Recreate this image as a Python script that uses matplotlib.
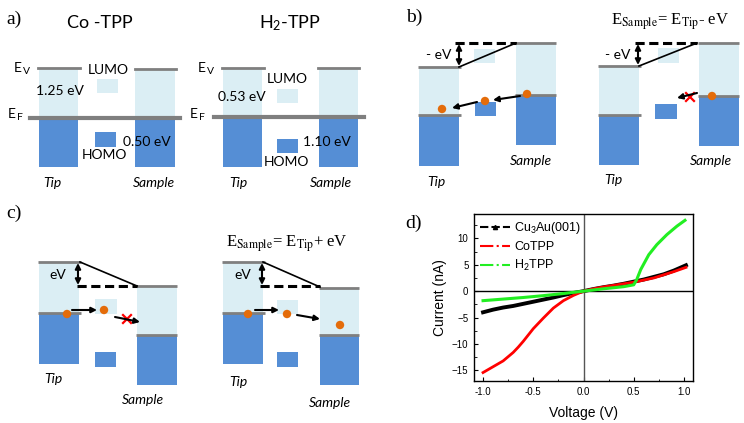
import numpy as np
import matplotlib
matplotlib.use("Agg")
from matplotlib import pyplot as plt
from matplotlib.patches import Rectangle, Circle
from matplotlib.lines import Line2D
from matplotlib.ticker import MultipleLocator

plt.rcParams['font.family'] = ['Lato', 'DejaVu Sans']
plt.rcParams['mathtext.fontset'] = 'custom'
plt.rcParams['mathtext.rm'] = 'Lato'
plt.rcParams['mathtext.it'] = 'Lato:italic'

# I-V data, panel d
v_cu = [-1.0, -0.9, -0.8, -0.7, -0.6, -0.5, -0.4, -0.3, -0.2, -0.1, 0.0,
        0.1, 0.2, 0.3, 0.4, 0.5, 0.6, 0.7, 0.8, 0.9, 1.02]
i_cu = [-4.0, -3.5, -3.1, -2.8, -2.4, -2.0, -1.6, -1.2, -0.75, -0.35, 0.0,
        0.4, 0.75, 1.05, 1.4, 1.8, 2.2, 2.7, 3.2, 3.9, 4.9]
v_co = [-1.0, -0.9, -0.8, -0.75, -0.7, -0.65, -0.6, -0.55, -0.5, -0.45, -0.4,
        -0.3, -0.2, -0.1, 0.0, 0.1, 0.2, 0.3, 0.4, 0.5, 0.6, 0.7, 0.8, 0.9, 1.02]
i_co = [-15.4, -14.3, -13.2, -12.4, -11.6, -10.6, -9.5, -8.3, -7.1, -6.1, -5.1,
        -3.2, -1.8, -0.8, 0.0, 0.45, 0.8, 1.1, 1.4, 1.7, 2.1, 2.5, 3.1, 3.7, 4.5]
v_h2 = [-1.0, -0.8, -0.6, -0.4, -0.2, 0.0, 0.2, 0.4, 0.5, 0.53, 0.57,
        0.65, 0.73, 0.83, 0.93, 1.01]
i_h2 = [-1.8, -1.5, -1.2, -0.85, -0.45, 0.0, 0.45, 0.85, 1.2, 2.2, 4.1,
        6.9, 8.8, 10.7, 12.3, 13.4]
x_ticks = [-1.0, -0.5, 0.0, 0.5, 1.0]
y_ticks = [-15, -10, -5, 0, 5, 10]

LIGHT = '#dbeef4'
DARK = '#558ed5'
GRAY = '#7f7f7f'
ORANGE = '#e46c0a'

fig = plt.figure(figsize=(7.44, 4.23), dpi=100)
ov = fig.add_axes([0, 0, 1, 1])
ov.set_xlim(0, 744)
ov.set_ylim(423, 0)
ov.axis('off')


def electrode(x0, x1, top, ef, bot, ext=2):
    ov.add_patch(Rectangle((x0, top), x1 - x0, ef - top, color=LIGHT, lw=0))
    ov.add_patch(Rectangle((x0, ef), x1 - x0, bot - ef, color=DARK, lw=0))
    ov.plot([x0 - 1, x1 + ext], [top, top], color=GRAY, lw=2, solid_capstyle='butt')
    ov.plot([x0 - 1, x1 + ext], [ef, ef], color=GRAY, lw=2, solid_capstyle='butt')


def orbital(x0, x1, y0, y1, color):
    ov.add_patch(Rectangle((x0, y0), x1 - x0, y1 - y0, color=color, lw=0))


def dot(x, y):
    ov.add_patch(Circle((x, y), 4.2, color=ORANGE, lw=0, zorder=5))


def arrow(x0, y0, x1, y1, style='-|>'):
    ov.annotate('', xy=(x1, y1), xytext=(x0, y0),
                arrowprops=dict(arrowstyle=style, color='k', lw=1.5,
                                mutation_scale=8, shrinkA=0, shrinkB=0))


def xmark(x, y, s=4):
    ov.plot([x - s, x + s], [y - s, y + s], color='red', lw=1.6)
    ov.plot([x - s, x + s], [y + s, y - s], color='red', lw=1.6)


def level_label(x, y, sub):
    ov.text(x, y, 'E', fontsize=10, ha='center', va='center')
    ov.text(x + 8, y + 4, sub, fontsize=7.5, ha='center', va='center')


def txt(x, y, s, size=10, **kw):
    ov.text(x, y, s, fontsize=size, ha='center', va='center', **kw)


# panel labels
for lab, (x, y) in zip(['a)', 'b)', 'c)', 'd)'],
                       [(14, 19), (414, 17), (14, 213), (414, 223)]):
    ov.text(x, y, lab, fontsize=14, family='Liberation Serif', ha='center', va='center')

# ---- panel a, Co-TPP
txt(100, 23, 'Co -TPP', 13)
ov.add_patch(Rectangle((39, 68), 39, 50, color=LIGHT, lw=0))
ov.add_patch(Rectangle((39, 118), 39, 49, color=DARK, lw=0))
ov.add_patch(Rectangle((135, 69), 40, 49, color=LIGHT, lw=0))
ov.add_patch(Rectangle((135, 118), 40, 49, color=DARK, lw=0))
ov.plot([38, 80], [68, 68], color=GRAY, lw=2)
ov.plot([135, 176], [69.5, 69.5], color=GRAY, lw=2)
ov.plot([30, 180], [118, 118], color=GRAY, lw=3)
orbital(97, 118, 79, 93, LIGHT)
orbital(95, 116, 132, 147, DARK)
level_label(18, 68, 'V')
level_label(12, 114, 'F')
txt(108, 70, 'LUMO')
txt(60, 91, '1.25 eV')
txt(147, 142, '0.50 eV')
txt(104, 155, 'HOMO')
txt(52, 183, 'Tip', style='italic')
txt(154, 183, 'Sample', style='italic')

# ---- panel a, H2-TPP
txt(290, 23, 'H$_2$-TPP', 13)
ov.add_patch(Rectangle((223, 68), 39, 49, color=LIGHT, lw=0))
ov.add_patch(Rectangle((223, 117), 39, 50, color=DARK, lw=0))
ov.add_patch(Rectangle((319, 68), 39, 49, color=LIGHT, lw=0))
ov.add_patch(Rectangle((319, 117), 39, 50, color=DARK, lw=0))
ov.plot([222, 264], [68, 68], color=GRAY, lw=2)
ov.plot([318, 359], [68, 68], color=GRAY, lw=2)
ov.plot([214, 364], [117, 117], color=GRAY, lw=3)
orbital(277, 298, 89, 103, LIGHT)
orbital(277, 298, 139, 153, DARK)
level_label(202, 68, 'V')
level_label(194, 114, 'F')
txt(287, 79, 'LUMO')
txt(242, 97, '0.53 eV')
txt(327, 142, '1.10 eV')
txt(286, 162, 'HOMO')
txt(238, 183, 'Tip', style='italic')
txt(331, 183, 'Sample', style='italic')

# ---- panel b (negative bias)
formula_b = r'E$_{\mathrm{Sample}}$= E$_{\mathrm{Tip}}$- eV'
ov.text(670, 22, formula_b, fontsize=12, family='Liberation Serif',
        math_fontfamily='stix', ha='center', va='center')

electrode(419, 459, 67, 115, 166)
electrode(516, 556, 43, 95, 145, ext=0)
orbital(474, 495, 49, 63, LIGHT)
orbital(475, 496, 102, 116, DARK)
ov.plot([455, 516], [43, 43], color='k', lw=2.2, ls=(0, (3, 1.5)))
ov.plot([459, 516], [67, 43], color='k', lw=1.2)
arrow(459, 44, 459, 66, style='<|-|>')
txt(439, 55, '- eV')
dot(442, 109)
dot(485, 101)
dot(527, 94)
arrow(520, 96, 493, 100)
arrow(477, 102, 452, 108)
txt(436, 182, 'Tip', style='italic')
txt(531, 161, 'Sample', style='italic')

electrode(599, 639, 66, 115, 165)
electrode(699, 739, 43, 96, 146, ext=0)
orbital(658, 679, 48, 63, LIGHT)
orbital(655, 677, 104, 119, DARK)
ov.plot([635, 697], [43, 43], color='k', lw=2.2, ls=(0, (3, 1.5)))
ov.plot([639, 697], [66, 43], color='k', lw=1.2)
arrow(638, 44, 638, 65, style='<|-|>')
txt(618, 55, '- eV')
dot(712, 96)
arrow(697, 93, 677, 98)
xmark(690, 97)
txt(613, 180, 'Tip', style='italic')
txt(711, 161, 'Sample', style='italic')

# ---- panel c (positive bias)
formula_c = r'E$_{\mathrm{Sample}}$= E$_{\mathrm{Tip}}$+ eV'
ov.text(287, 244, formula_c, fontsize=12, family='Liberation Serif',
        math_fontfamily='stix', ha='center', va='center')

electrode(39, 79, 262, 313, 364)
electrode(137, 177, 286, 335, 385, ext=0)
orbital(95, 117, 299, 314, LIGHT)
orbital(95, 116, 352, 367, DARK)
ov.plot([77, 137], [286, 286], color='k', lw=2.2, ls=(0, (3, 1.5)))
ov.plot([80, 137], [262, 286], color='k', lw=1.2)
arrow(78, 263, 78, 285, style='<|-|>')
txt(58, 275, 'eV')
dot(67, 314)
dot(104, 310)
arrow(72, 310, 97, 310)
arrow(115, 317, 140, 322)
xmark(127, 319)
txt(53, 379, 'Tip', style='italic')
txt(143, 400, 'Sample', style='italic')

electrode(223, 263, 262, 313, 364)
electrode(320, 359, 288, 335, 385, ext=0)
orbital(277, 298, 300, 314, LIGHT)
orbital(277, 298, 352, 367, DARK)
ov.plot([260, 320], [286, 286], color='k', lw=2.2, ls=(0, (3, 1.5)))
ov.plot([263, 320], [262, 287], color='k', lw=1.2)
arrow(262, 263, 262, 285, style='<|-|>')
txt(243, 275, 'eV')
dot(248, 314)
dot(287, 314)
dot(340, 325)
arrow(255, 310, 279, 310)
arrow(297, 315, 320, 319)
txt(238, 382, 'Tip', style='italic')
txt(330, 403, 'Sample', style='italic')

# ---- panel d, I-V curves
W, H = 744, 423
ax = fig.add_axes([474 / W, (H - 381) / H, (693 - 474) / W, (381 - 214) / H])
ax.axhline(0, color='k', lw=1)
ax.axvline(0, color='#555555', lw=1)
ax.plot(v_cu, i_cu, color='k', lw=2.8)
ax.plot(v_co, i_co, color='red', lw=2.0)
ax.plot(v_h2, i_h2, color='#22ee22', lw=2.2)
ax.set_xlim(-1.09, 1.09)
ax.set_ylim(-17.0, 14.6)
ax.set_xticks(x_ticks)
ax.set_xticklabels(['%.1f' % v for v in x_ticks])
ax.set_yticks(y_ticks)
ax.xaxis.set_minor_locator(MultipleLocator(0.25))
ax.yaxis.set_minor_locator(MultipleLocator(2.5))
ax.tick_params(which='both', direction='in', top=False, right=False,
               labelsize=7, pad=4)
ax.tick_params(which='major', length=3)
ax.tick_params(which='minor', length=1.8)
for lbl in ax.get_xticklabels() + ax.get_yticklabels():
    lbl.set_family('Liberation Sans')
for sp in ax.spines.values():
    sp.set_linewidth(1)
ax.set_xlabel('Voltage (V)', fontsize=10, family='Liberation Sans')
ax.set_ylabel('Current (nA)', fontsize=10, family='Liberation Sans')
ax.xaxis.set_label_coords(0.5, -0.15)
ax.yaxis.set_label_coords(-0.125, 0.5)

handles = [
    Line2D([], [], color='k', ls=(0, (4, 1.5)), lw=1.5, marker='^', markersize=3),
    Line2D([], [], color='red', ls='-.', lw=1.5),
    Line2D([], [], color='#22ee22', ls='-.', lw=1.5),
]
labels = ['Cu$_3$Au(001)', 'CoTPP', 'H$_2$TPP']
leg = ax.legend(handles, labels, loc='upper left', bbox_to_anchor=(0.0, 1.0),
                frameon=False, handlelength=2.4, handletextpad=0.3,
                labelspacing=0.4, borderpad=0.3, borderaxespad=0.2,
                prop={'family': 'Liberation Sans', 'size': 9})

fig.savefig('out.png', dpi=100)
